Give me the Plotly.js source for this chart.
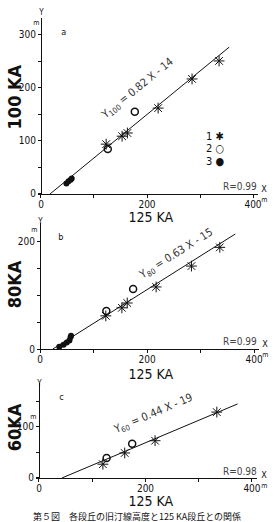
<!DOCTYPE html>
<html><head><meta charset="utf-8">
<script src="https://cdn.plot.ly/plotly-3.0.1.min.js"></script>
<style>html,body{margin:0;padding:0;background:#fff}#c{width:275px;height:522px}
#c text{font-stretch:condensed !important}</style>
</head><body><div id="c"></div>
<script>
// Panel a: 100 KA vs 125 KA
const aStarX = [123, 153, 163, 221, 285, 336];
const aStarY = [94, 109, 115, 162, 217, 251];
const aOpenX = [126, 177];
const aOpenY = [85, 155];
const aDotX = [48, 52, 56, 58];
const aDotY = [20, 24, 27, 29];
const aLineX = [17, 355];
const aLineY = [0, 277];
// Panel b: 80 KA vs 125 KA
const bStarX = [123, 153, 163, 217, 283, 336];
const bStarY = [62, 77, 86, 116, 155, 190];
const bOpenX = [124, 174];
const bOpenY = [71, 112];
const bDotX = [36, 44, 50, 55, 57, 58];
const bDotY = [4, 8, 12, 16, 22, 25];
const bLineX = [24, 365];
const bLineY = [0, 215];
// Panel c: 60 KA vs 125 KA
const cStarX = [120, 161, 218, 334];
const cStarY = [27, 49, 73, 129];
const cOpenX = [127, 175];
const cOpenY = [39, 67];
const cLineX = [43, 373];
const cLineY = [0, 145];

const xTickVals = [0, 100, 200, 300, 400];
const xTickText = ['0', '', '200', '', '400'];

const F = '"DejaVu Sans", sans-serif';
const px = x => x / 275, py = y => 1 - y / 522;

function sc(x, y, sym, size, xa, ya, lw) {
  return {x, y, xaxis: xa, yaxis: ya, type: 'scatter', mode: 'markers', showlegend: false,
    marker: {symbol: sym, size, color: '#111', line: {color: '#111', width: lw}}};
}
function ln(x, y, xa, ya) {
  return {x, y, xaxis: xa, yaxis: ya, type: 'scatter', mode: 'lines', showlegend: false,
    line: {color: '#111', width: 1}};
}
const data = [
  ln(aLineX, aLineY, 'x', 'y'),
  sc(aStarX, aStarY, 'asterisk-open', 9, 'x', 'y', 1),
  sc(aOpenX, aOpenY, 'circle-open', 7, 'x', 'y', 1.5),
  sc(aDotX, aDotY, 'circle', 6, 'x', 'y', 0),
  ln(bLineX, bLineY, 'x2', 'y2'),
  sc(bStarX, bStarY, 'asterisk-open', 9, 'x2', 'y2', 1),
  sc(bOpenX, bOpenY, 'circle-open', 7, 'x2', 'y2', 1.5),
  sc(bDotX, bDotY, 'circle', 6, 'x2', 'y2', 0),
  ln(cLineX, cLineY, 'x3', 'y3'),
  sc(cStarX, cStarY, 'asterisk-open', 9, 'x3', 'y3', 1),
  sc(cOpenX, cOpenY, 'circle-open', 7, 'x3', 'y3', 1.5)
];

function xax(dom, anchor) {
  return {domain: dom, range: [-6, 410], anchor, showgrid: false, zeroline: false,
    showline: true, linecolor: '#111', linewidth: 1, ticks: 'outside', ticklen: 3,
    ticklabelstandoff: -2,
    tickcolor: '#111', tickvals: xTickVals, ticktext: xTickText,
    tickfont: {family: F, size: 10, color: '#111'}};
}
function yax(dom, range, pos, tv, tt) {
  return {domain: dom, range, anchor: 'free', position: pos, showgrid: false, zeroline: false,
    showline: true, linecolor: '#111', linewidth: 1, ticks: 'outside', ticklen: 3,
    tickcolor: '#111', tickvals: tv, ticktext: tt,
    tickfont: {family: F, size: 10, color: '#111'}};
}

const ann = [];
function t(text, x, y, size, opts) {
  ann.push(Object.assign({text, x: px(x), y: py(y), xref: 'paper', yref: 'paper',
    xanchor: 'center', yanchor: 'middle',
    showarrow: false, font: {family: F, size, color: '#111'}}, opts || {}));
}
// axis titles
const tF = {family: F, size: 18, color: '#111', weight: 'bold'};
t('100 KA', 14, 97, 18, {textangle: -90, font: tF});
t('80KA', 14, 285, 18, {textangle: -90, font: tF});
t('60KA', 14, 428, 18, {textangle: -90, font: tF});
const xF = {family: F, size: 14, color: '#111'};
t('125 KA', 151, 217, 14, {font: xF});
t('125 KA', 151, 374, 14, {font: xF});
t('125 KA', 151, 501, 14, {font: xF});
// panel letters
t('a', 64, 32, 9); t('b', 61, 237, 9); t('c', 61, 397, 9);
// Y / X / m markers
t('Y', 41, 13, 8); t('m', 36, 23, 7);
t('Y', 40, 221, 8); t('m', 35, 230, 7);
t('Y', 39, 383, 8); t('m', 33, 417, 7);
t('X', 264, 189, 9); t('m', 264, 200, 7);
t('X', 265, 344, 9); t('m', 265, 355, 7);
t('X', 264, 475, 9); t('m', 264, 486, 7);
// equations
const eqF = {family: F, size: 11, color: '#333'};
t('Y<sub>100</sub> = 0.82 X - 14', 137, 89, 11, {textangle: -39, font: eqF});
t('Y<sub>80</sub> = 0.63 X - 15', 176, 254, 11, {textangle: -32, font: eqF});
t('Y<sub>60</sub> = 0.44 X - 19', 153, 414, 11, {textangle: -23, font: eqF});
// R values
const rF = {family: F, size: 10, color: '#444'};
t('R=0.99', 240, 186, 10, {font: rF});
t('R=0.99', 240, 341, 10, {font: rF});
t('R=0.98', 240, 471, 10, {font: rF});
// legend
t('1 ✱', 215, 136, 11);
t('2 ○', 215, 149, 11);
t('3 ●', 215, 162, 11);
// caption (at the bottom edge)
t('第５図　各段丘の旧汀線高度と125 KA段丘との関係', 137, 516, 9, {font: {family: '"Noto Sans CJK JP", sans-serif', size: 9, color: '#111'}});

const layout = {
  width: 275, height: 522, margin: {l: 0, r: 0, t: 0, b: 0},
  paper_bgcolor: '#fff', plot_bgcolor: 'rgba(0,0,0,0)', showlegend: false,
  xaxis: xax([0.1375, 0.9393], 'y'),
  yaxis: yax([0.6284, 0.9655], [0, 332], 41 / 275,
    [0, 50, 100, 150, 200, 250, 300], ['0', '', '100', '', '200', '', '300']),
  xaxis2: xax([0.1338, 0.9433], 'y2'),
  yaxis2: yax([0.3314, 0.5728], [0, 235.5], 40 / 275, [0, 50, 100, 150, 200], ['0', '', '', '', '200']),
  xaxis3: xax([0.1302, 0.9356], 'y3'),
  yaxis3: yax([0.0843, 0.2663], [0, 186], 39 / 275, [0, 50, 100, 150], ['0', '', '100', '']),
  annotations: ann
};
Plotly.newPlot('c', data, layout, {staticPlot: true, displayModeBar: false});
</script></body></html>
